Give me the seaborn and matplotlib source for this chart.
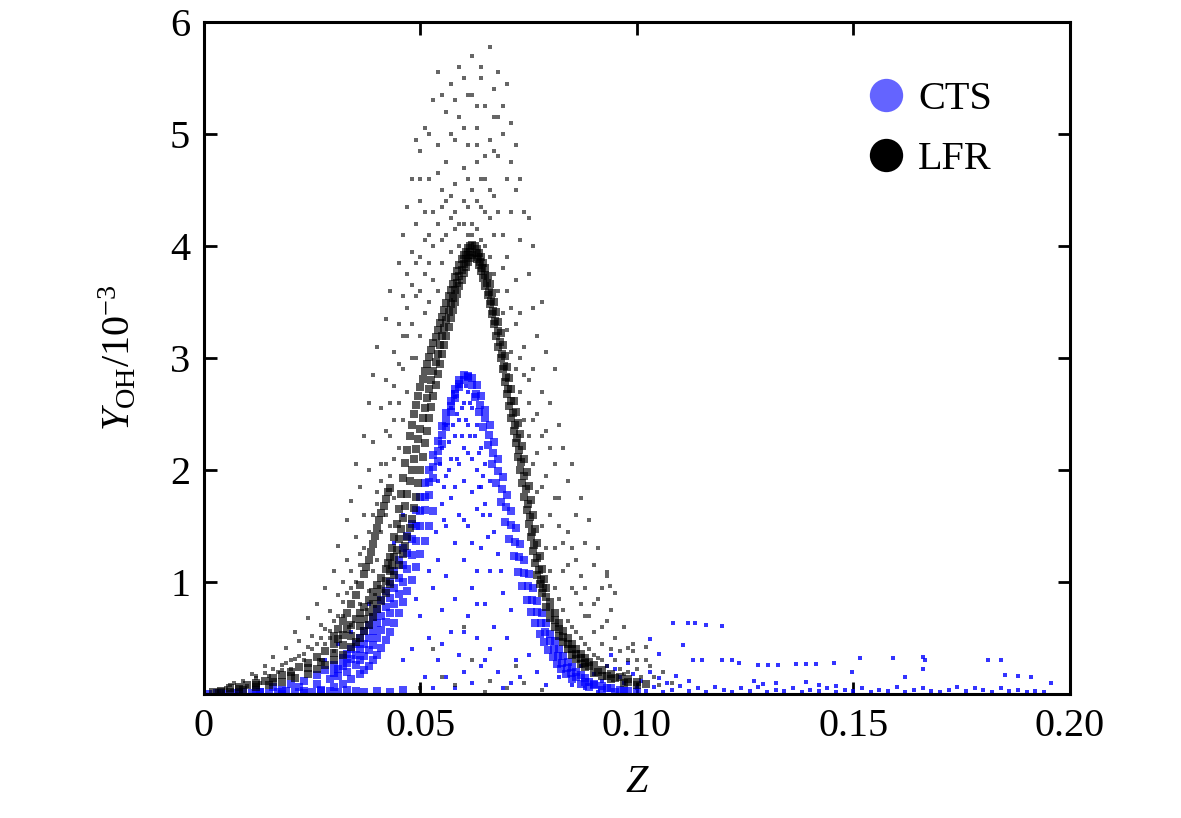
import pandas as pd
import matplotlib
matplotlib.use('Agg')
import matplotlib.pyplot as plt
from matplotlib.lines import Line2D
import seaborn as sns

# ---- data: (Z, Y_OH / 1e-3) ----
# LFR dense band, left branch (outer edge, middle, inner edge, side streak)
lfr_band_a = [(0.002,0.02),(0.004,0.03),(0.006,0.05),(0.008,0.06),(0.010,0.08),(0.012,0.1),(0.014,0.12),
              (0.016,0.14),(0.018,0.17),(0.020,0.2),(0.022,0.24),(0.024,0.28),(0.026,0.33),(0.028,0.38),
              (0.030,0.45),(0.031,0.49),(0.032,0.53),(0.033,0.58),(0.034,0.62),(0.035,0.67),(0.036,0.72),
              (0.037,0.78),(0.038,0.84),(0.039,0.91),(0.040,0.97),(0.041,1.04),(0.042,1.12),(0.0425,1.17),
              (0.043,1.22),(0.0435,1.3),(0.044,1.4),(0.0445,1.52),(0.045,1.65),(0.0455,1.79),(0.046,1.93),
              (0.0465,2.06),(0.047,2.18),(0.0475,2.3),(0.048,2.4),(0.0485,2.5),(0.049,2.58),(0.0495,2.66),
              (0.050,2.74),(0.0505,2.81),(0.051,2.88),(0.0515,2.95),(0.052,3.01),(0.0525,3.07),(0.053,3.13),
              (0.0535,3.19),(0.054,3.25),(0.0545,3.31),(0.055,3.37),(0.0555,3.43),(0.056,3.49),(0.0565,3.55),
              (0.057,3.61),(0.0575,3.66),(0.058,3.72),(0.0585,3.78),(0.059,3.83),(0.0595,3.88),(0.060,3.92),
              (0.0605,3.95),(0.061,3.98),(0.0615,4.0),(0.062,4.01)]
lfr_band_ab = [(0.004,0.02),(0.008,0.045),(0.012,0.08),(0.016,0.11),(0.020,0.16),(0.024,0.23),(0.027,0.29),
               (0.030,0.37),(0.032,0.44),(0.034,0.52),(0.036,0.61),(0.037,0.67),(0.038,0.73),(0.039,0.8),
               (0.040,0.87),(0.041,0.94),(0.042,1.01),(0.043,1.1),(0.0435,1.15),(0.044,1.22),(0.0445,1.29),
               (0.045,1.38),(0.0455,1.47),(0.046,1.57),(0.0465,1.68),(0.047,1.79),(0.0475,1.9),(0.048,2.0),
               (0.0485,2.1),(0.049,2.19),(0.0495,2.28),(0.050,2.37),(0.0505,2.46),(0.051,2.55),(0.0515,2.64),
               (0.052,2.72),(0.0525,2.8),(0.053,2.88),(0.0535,2.96),(0.054,3.04),(0.0545,3.12),(0.055,3.2),
               (0.0555,3.27),(0.056,3.34),(0.0565,3.41),(0.057,3.48),(0.0575,3.54),(0.058,3.61),(0.0585,3.67),
               (0.059,3.73),(0.0595,3.79),(0.060,3.84),(0.0605,3.88),(0.061,3.92),(0.0615,3.95)]
lfr_band_b = [(0.006,0.02),(0.009,0.04),(0.012,0.06),(0.015,0.08),(0.018,0.11),(0.021,0.14),(0.024,0.18),
              (0.026,0.22),(0.028,0.26),(0.030,0.3),(0.032,0.35),(0.034,0.42),(0.035,0.46),(0.036,0.5),
              (0.037,0.56),(0.038,0.62),(0.039,0.69),(0.040,0.76),(0.041,0.83),(0.042,0.9),(0.043,0.98),
              (0.044,1.06),(0.045,1.15),(0.046,1.25),(0.0465,1.32),(0.047,1.4),(0.0475,1.48),(0.048,1.56),
              (0.0485,1.66),(0.049,1.76),(0.0495,1.88),(0.050,2.0),(0.0505,2.12),(0.051,2.24),(0.0515,2.35),
              (0.052,2.46),(0.0525,2.56),(0.053,2.66),(0.0535,2.76),(0.054,2.86),(0.0545,2.95),(0.055,3.04),
              (0.0555,3.12),(0.056,3.2),(0.0565,3.28),(0.057,3.36),(0.0575,3.43),(0.058,3.5),(0.0585,3.57),
              (0.059,3.64),(0.0595,3.7),(0.060,3.76),(0.0605,3.81),(0.061,3.86),(0.0615,3.89),(0.062,3.92)]
lfr_band_c = [(0.030,0.52),(0.031,0.58),(0.032,0.65),(0.033,0.72),(0.034,0.8),(0.035,0.88),(0.036,0.97),
              (0.037,1.07),(0.0375,1.13),(0.038,1.2),(0.0385,1.27),(0.039,1.34),(0.0395,1.41),(0.040,1.48),
              (0.0405,1.55),(0.041,1.62),(0.0415,1.68),(0.042,1.74),(0.0425,1.8),(0.043,1.84)]
# LFR dense band, right branch (outer, middle, inner)
lfr_band_d = [(0.0625,4.0),(0.063,3.97),(0.0635,3.94),(0.064,3.9),(0.0645,3.85),(0.065,3.8),(0.0655,3.73),
              (0.066,3.66),(0.0665,3.58),(0.067,3.5),(0.0675,3.41),(0.068,3.32),(0.0685,3.22),(0.069,3.12),
              (0.0695,3.02),(0.070,2.92),(0.0705,2.82),(0.071,2.72),(0.0715,2.62),(0.072,2.52),(0.0725,2.42),
              (0.073,2.32),(0.0735,2.21),(0.074,2.1),(0.0745,1.98),(0.075,1.86),(0.0755,1.73),(0.076,1.6),
              (0.0765,1.47),(0.077,1.35),(0.0775,1.23),(0.078,1.12),(0.0785,1.03),(0.079,0.95),(0.080,0.82),
              (0.081,0.72),(0.082,0.63),(0.083,0.56),(0.084,0.5),(0.085,0.45),(0.086,0.4),(0.087,0.36),
              (0.088,0.32),(0.089,0.29),(0.090,0.26),(0.092,0.21),(0.094,0.18),(0.096,0.15),(0.098,0.13),
              (0.100,0.11),(0.102,0.09)]
lfr_band_de = [(0.0628,3.94),(0.0633,3.9),(0.0638,3.86),(0.0643,3.8),(0.0648,3.74),(0.0653,3.67),(0.0658,3.59),
               (0.0663,3.51),(0.0668,3.42),(0.0673,3.33),(0.0678,3.24),(0.0683,3.14),(0.0688,3.04),
               (0.0693,2.93),(0.0698,2.83),(0.0703,2.72),(0.0708,2.62),(0.0713,2.51),(0.0718,2.4),
               (0.0723,2.29),(0.0728,2.18),(0.0733,2.07),(0.0738,1.95),(0.0743,1.83),(0.0748,1.7),
               (0.0753,1.58),(0.0758,1.45),(0.0763,1.33),(0.0768,1.21),(0.0773,1.11),(0.0778,1.02),
               (0.0783,0.95),(0.079,0.87),(0.080,0.75),(0.081,0.66),(0.082,0.58),(0.083,0.51),(0.084,0.45),
               (0.085,0.4),(0.086,0.36),(0.087,0.32),(0.088,0.28),(0.089,0.25),(0.091,0.2),(0.093,0.16),
               (0.095,0.14),(0.098,0.11)]
lfr_band_e = [(0.063,3.88),(0.0635,3.83),(0.064,3.78),(0.0645,3.71),(0.065,3.64),(0.0655,3.56),(0.066,3.48),
              (0.0665,3.39),(0.067,3.3),(0.0675,3.2),(0.068,3.1),(0.0685,3.0),(0.069,2.9),(0.0695,2.79),
              (0.070,2.68),(0.0705,2.57),(0.071,2.46),(0.0715,2.35),(0.072,2.24),(0.0725,2.12),(0.073,2.0),
              (0.0735,1.88),(0.074,1.76),(0.0745,1.64),(0.075,1.52),(0.0755,1.4),(0.076,1.28),(0.0765,1.17),
              (0.077,1.06),(0.0775,0.98),(0.078,0.9),(0.079,0.78),(0.080,0.68),(0.081,0.6),(0.082,0.52),
              (0.083,0.46),(0.084,0.4),(0.085,0.35),(0.086,0.31),(0.087,0.27),(0.088,0.24),(0.090,0.19),
              (0.092,0.16),(0.094,0.13),(0.097,0.1),(0.100,0.08)]
# LFR scattered cloud around the band
lfr_cloud = [(0.006,0.08),(0.009,0.12),(0.011,0.18),(0.013,0.1),(0.014,0.25),(0.016,0.33),(0.017,0.2),
             (0.019,0.41),(0.020,0.3),(0.021,0.55),(0.022,0.47),(0.023,0.36),(0.024,0.68),(0.025,0.52),
             (0.026,0.8),(0.027,0.62),(0.028,0.95),(0.028,0.45),(0.029,0.74),(0.030,1.1),(0.031,0.88),
             (0.031,1.32),(0.032,1.0),(0.033,1.55),(0.033,1.2),(0.034,0.95),(0.034,1.72),(0.035,1.4),
             (0.035,2.05),(0.036,1.85),(0.036,1.25),(0.037,2.3),(0.037,1.6),(0.038,2.6),(0.038,2.0),
             (0.039,2.85),(0.039,2.25),(0.040,1.8),(0.040,3.1),(0.041,2.55),(0.041,2.05),(0.042,3.35),
             (0.042,2.8),(0.043,2.3),(0.043,3.6),(0.044,3.05),(0.044,2.1),(0.045,3.85),(0.045,3.3),
             (0.045,2.6),(0.046,4.1),(0.046,3.55),(0.046,2.9),(0.047,4.35),(0.047,3.75),(0.047,3.2),
             (0.048,4.6),(0.048,3.95),(0.048,3.0),(0.049,4.2),(0.049,3.55),(0.050,4.85),(0.050,4.4),
             (0.050,3.9),(0.051,3.4),(0.051,5.05),(0.052,4.6),(0.052,4.1),(0.053,5.3),(0.053,4.3),
             (0.053,3.7),(0.054,4.9),(0.054,5.55),(0.055,4.5),(0.055,4.05),(0.056,5.2),(0.056,4.75),
             (0.057,5.45),(0.057,4.25),(0.058,4.95),(0.058,4.55),(0.059,5.6),(0.059,5.15),(0.059,4.2),
             (0.060,4.7),(0.060,4.4),(0.061,5.35),(0.061,4.9),(0.062,5.7),(0.062,4.5),(0.062,4.2),
             (0.063,5.05),(0.063,4.75),(0.064,5.5),(0.064,4.35),(0.065,5.25),(0.065,4.6),(0.066,5.78),
             (0.066,4.95),(0.066,4.25),(0.067,5.15),(0.067,4.45),(0.068,5.55),(0.068,4.8),(0.069,4.1),
             (0.069,5.0),(0.070,5.45),(0.070,4.6),(0.070,3.9),(0.071,4.75),(0.071,4.3),(0.072,3.7),
             (0.072,4.5),(0.073,4.05),(0.073,3.4),(0.074,4.3),(0.074,3.1),(0.075,3.75),(0.075,2.8),
             (0.076,3.45),(0.076,4.0),(0.076,2.45),(0.077,3.2),(0.077,2.15),(0.078,3.5),(0.078,2.7),
             (0.078,1.85),(0.079,3.05),(0.079,2.35),(0.080,2.6),(0.080,1.6),(0.081,2.9),(0.081,2.05),
             (0.081,1.3),(0.082,2.4),(0.082,1.75),(0.083,2.2),(0.083,1.1),(0.084,1.9),(0.084,1.45),
             (0.085,2.05),(0.085,0.95),(0.086,1.6),(0.086,1.2),(0.087,1.75),(0.087,0.8),(0.088,1.35),
             (0.088,0.95),(0.089,1.55),(0.089,0.7),(0.090,1.15),(0.090,0.55),(0.091,1.3),(0.091,0.85),
             (0.092,0.95),(0.092,0.45),(0.093,1.05),(0.093,0.65),(0.094,0.75),(0.095,0.5),(0.095,0.9),
             (0.096,0.38),(0.097,0.6),(0.098,0.3),(0.099,0.45),(0.100,0.22),(0.102,0.3),(0.104,0.15),
             (0.106,0.2),(0.108,0.1),(0.003,0.03),(0.005,0.05),(0.007,0.1),(0.010,0.07),(0.012,0.14),
             (0.015,0.16),(0.018,0.26),(0.020,0.22),(0.022,0.34),(0.025,0.4),(0.027,0.3),(0.029,0.56),
             (0.030,0.38),(0.032,0.7),(0.034,0.62),(0.036,0.8),(0.038,0.92),(0.040,1.2),(0.041,1.45),
             (0.042,1.6),(0.043,1.5),(0.044,1.75),(0.050,0.05),(0.055,0.15),(0.058,0.08),(0.062,0.3),
             (0.066,0.12),(0.070,0.05),(0.072,0.25),(0.074,0.1),(0.078,0.04),(0.053,0.4),(0.060,0.6),
             (0.065,0.02),(0.098,0.2),(0.100,0.3),(0.101,0.15),(0.103,0.25),(0.105,0.08),(0.099,0.38),
             (0.102,0.42),(0.093,1.09),(0.0937,0.96),(0.098,0.41)]
# more LFR cloud hugging the band and filling the top
lfr_cloud_near = [(0.012,0.16),(0.014,0.19),(0.016,0.22),(0.018,0.21),(0.019,0.28),(0.021,0.31),(0.023,0.3),
                  (0.024,0.42),(0.026,0.45),(0.027,0.5),(0.028,0.58),(0.029,0.5),(0.030,0.65),(0.031,0.7),
                  (0.032,0.82),(0.033,0.9),(0.034,1.1),(0.035,1.0),(0.036,1.15),(0.037,1.3),(0.038,1.45),
                  (0.039,1.6),(0.039,1.1),(0.040,1.7),(0.041,1.9),(0.042,2.05),(0.042,2.35),(0.043,2.6),
                  (0.043,1.95),(0.044,2.45),(0.044,2.75),(0.045,2.2),(0.045,2.95),(0.046,2.45),(0.046,3.2),
                  (0.047,2.7),(0.047,3.45),(0.048,3.3),(0.048,3.65),(0.049,3.0),(0.049,3.85),(0.050,3.2),
                  (0.050,3.6),(0.051,3.75),(0.051,4.05),(0.052,3.5),(0.052,3.85),(0.053,4.0),(0.054,3.6),
                  (0.054,4.2),(0.055,3.85),(0.055,4.35),(0.056,4.1),(0.057,3.95),(0.057,4.45),(0.058,4.15),
                  (0.058,4.3),(0.059,4.0),(0.060,4.2),(0.061,4.1),(0.061,4.35),(0.062,4.1),(0.063,4.15),
                  (0.063,4.4),(0.064,4.05),(0.064,4.6),(0.065,4.0),(0.065,4.3),(0.066,3.9),(0.066,4.5),
                  (0.067,3.75),(0.067,4.1),(0.068,3.6),(0.068,4.3),(0.069,3.4),(0.069,3.8),(0.070,3.25),
                  (0.070,3.6),(0.071,3.05),(0.071,3.45),(0.072,2.9),(0.072,3.3),(0.073,2.7),(0.073,3.0),
                  (0.074,2.45),(0.074,2.85),(0.075,2.3),(0.075,2.6),(0.076,2.05),(0.076,2.9),(0.077,1.8),
                  (0.077,2.5),(0.078,1.5),(0.078,2.3),(0.079,1.3),(0.079,1.95),(0.080,1.1),(0.080,2.2),
                  (0.081,0.95),(0.081,1.75),(0.082,0.85),(0.082,1.5),(0.083,0.75),(0.083,1.35),(0.084,0.65),
                  (0.084,1.15),(0.085,0.6),(0.085,1.3),(0.086,0.55),(0.086,0.9),(0.087,0.5),(0.087,1.05),
                  (0.088,0.45),(0.088,0.7),(0.089,0.4),(0.090,0.35),(0.090,0.8),(0.091,0.32),(0.092,0.3),
                  (0.092,0.6),(0.093,0.25),(0.094,0.4),(0.095,0.3),(0.096,0.22),(0.097,0.18),(0.052,5.0),
                  (0.055,5.35),(0.058,5.3),(0.060,5.5),(0.063,5.25),(0.064,5.6),(0.067,5.4),(0.069,5.25),
                  (0.057,5.0),(0.061,4.6),(0.063,4.9),(0.067,4.85),(0.071,5.1),(0.073,4.6),(0.072,4.9),
                  (0.075,4.25),(0.050,4.6),(0.049,4.95),(0.051,4.3),(0.054,4.65),(0.056,4.4),(0.060,5.05),
                  (0.062,5.35),(0.065,4.8),(0.068,5.15)]

# CTS dense band, left branch (left edge, two middles, right edge, bottom strip)
cts_band_p = [(0.004,0.01),(0.008,0.02),(0.012,0.04),(0.016,0.06),(0.020,0.09),(0.023,0.12),(0.026,0.17),
              (0.028,0.21),(0.030,0.26),(0.032,0.32),(0.033,0.36),(0.034,0.4),(0.035,0.45),(0.036,0.5),
              (0.037,0.56),(0.038,0.62),(0.039,0.69),(0.040,0.76),(0.041,0.84),(0.042,0.92),(0.043,1.0),
              (0.044,1.1),(0.045,1.2),(0.046,1.3),(0.047,1.41),(0.048,1.52),(0.049,1.64),(0.050,1.76),
              (0.051,1.88),(0.052,2.0),(0.053,2.13),(0.054,2.26),(0.055,2.39),(0.056,2.51),(0.057,2.62),
              (0.058,2.72),(0.059,2.8),(0.060,2.85)]
cts_band_pq = [(0.030,0.19),(0.031,0.22),(0.032,0.25),(0.033,0.28),(0.034,0.31),(0.035,0.35),(0.036,0.4),
               (0.037,0.45),(0.038,0.5),(0.039,0.56),(0.040,0.63),(0.041,0.7),(0.042,0.78),(0.043,0.86),
               (0.044,0.95),(0.045,1.04),(0.046,1.15),(0.047,1.26),(0.048,1.38),(0.049,1.5),(0.050,1.63),
               (0.051,1.76),(0.052,1.89),(0.053,2.03),(0.054,2.17),(0.055,2.31),(0.056,2.44),(0.057,2.57),
               (0.058,2.68),(0.059,2.77)]
cts_band_q = [(0.008,0.01),(0.013,0.02),(0.018,0.04),(0.022,0.06),(0.026,0.09),(0.029,0.13),(0.031,0.16),
              (0.033,0.2),(0.035,0.26),(0.036,0.3),(0.037,0.34),(0.038,0.39),(0.039,0.44),(0.040,0.5),
              (0.041,0.57),(0.042,0.64),(0.043,0.72),(0.044,0.8),(0.045,0.89),(0.046,1.0),(0.047,1.12),
              (0.048,1.24),(0.049,1.37),(0.050,1.5),(0.051,1.64),(0.052,1.78),(0.053,1.93),(0.054,2.08),
              (0.055,2.23),(0.056,2.38),(0.057,2.52),(0.058,2.64),(0.059,2.74),(0.060,2.8),(0.061,2.83)]
cts_band_r = [(0.018,0.0),(0.023,0.01),(0.027,0.03),(0.030,0.06),(0.032,0.09),(0.034,0.13),(0.036,0.18),
              (0.037,0.21),(0.038,0.25),(0.039,0.3),(0.040,0.35),(0.041,0.41),(0.042,0.48),(0.043,0.55),
              (0.044,0.63),(0.045,0.72),(0.046,0.82),(0.047,0.92),(0.048,1.02),(0.049,1.13),(0.050,1.25),
              (0.051,1.37),(0.052,1.5),(0.053,1.63)]
cts_band_s = [(0.001,0.0),(0.003,0.01),(0.005,0.0),(0.007,0.01),(0.009,0.02),(0.011,0.01),(0.013,0.02),
              (0.015,0.01),(0.017,0.02),(0.019,0.03),(0.021,0.02),(0.023,0.03),(0.025,0.02),(0.027,0.04),
              (0.029,0.03),(0.031,0.02),(0.033,0.04),(0.035,0.03),(0.037,0.02),(0.040,0.03),(0.043,0.02),
              (0.046,0.04)]
# CTS dense band, right branch (outer, middle, inner)
cts_band_t = [(0.061,2.84),(0.062,2.82),(0.063,2.76),(0.064,2.66),(0.065,2.54),(0.066,2.4),(0.067,2.25),
              (0.068,2.1),(0.069,1.94),(0.070,1.78),(0.071,1.63),(0.072,1.48),(0.073,1.34),(0.074,1.2),
              (0.075,1.07),(0.076,0.95),(0.077,0.83),(0.078,0.72),(0.079,0.63),(0.080,0.54),(0.081,0.47),
              (0.082,0.4),(0.083,0.34),(0.084,0.29),(0.085,0.24),(0.086,0.2),(0.087,0.17),(0.088,0.14),
              (0.089,0.11),(0.090,0.09),(0.092,0.07),(0.094,0.05),(0.096,0.04),(0.098,0.03),(0.100,0.02)]
cts_band_tu = [(0.0618,2.76),(0.0628,2.68),(0.0638,2.58),(0.0648,2.46),(0.0658,2.31),(0.0668,2.15),
               (0.0678,1.99),(0.0688,1.83),(0.0698,1.67),(0.0708,1.51),(0.0718,1.36),(0.0728,1.22),
               (0.0738,1.08),(0.0748,0.96),(0.0758,0.84),(0.0768,0.73),(0.0778,0.63),(0.0788,0.55),
               (0.0798,0.47),(0.0808,0.4),(0.0818,0.34),(0.0828,0.28),(0.0838,0.23),(0.0848,0.19),
               (0.086,0.15),(0.088,0.11),(0.090,0.08),(0.093,0.05),(0.097,0.03)]
cts_band_u = [(0.0625,2.65),(0.0635,2.52),(0.0645,2.38),(0.0655,2.22),(0.0665,2.05),(0.0675,1.88),
              (0.0685,1.71),(0.0695,1.54),(0.0705,1.38),(0.0715,1.23),(0.0725,1.09),(0.0735,0.96),
              (0.0745,0.84),(0.0755,0.73),(0.0765,0.63),(0.0775,0.54),(0.0785,0.46),(0.0795,0.39),
              (0.0805,0.33),(0.0815,0.27),(0.0825,0.22),(0.0835,0.18),(0.085,0.13),(0.087,0.09),
              (0.089,0.06),(0.092,0.04),(0.095,0.02)]
# CTS points under the peak
cts_inner = [(0.056,2.4),(0.057,2.55),(0.058,2.65),(0.058,2.3),(0.059,2.75),(0.059,2.45),(0.060,2.6),
             (0.060,2.2),(0.061,2.7),(0.061,2.4),(0.062,2.55),(0.062,2.1),(0.063,2.4),(0.063,2.0),
             (0.064,2.2),(0.064,1.85),(0.065,2.05),(0.065,1.7),(0.066,1.9),(0.057,2.1),(0.056,1.95),
             (0.055,2.2),(0.058,1.85),(0.059,2.05),(0.060,1.9),(0.061,2.15),(0.062,1.8),(0.063,1.65),
             (0.054,1.9),(0.055,1.7),(0.056,1.5),(0.057,1.75),(0.059,1.6),(0.061,1.5),(0.062,1.35),
             (0.0595,2.3),(0.0605,2.45),(0.0575,2.4),(0.0615,2.6),(0.0585,2.1),(0.0625,2.3),(0.0635,2.15),
             (0.0565,2.25),(0.0545,2.05),(0.0555,1.85),(0.0645,1.95),(0.054,1.2),(0.056,1.05),(0.058,0.85),
             (0.060,1.2),(0.062,0.95),(0.064,1.3),(0.066,1.1),(0.057,0.55),(0.059,0.35),(0.061,0.7),
             (0.063,0.5),(0.065,0.8),(0.067,0.6),(0.069,0.9),(0.055,0.75),(0.053,0.95),(0.052,0.5),
             (0.050,0.7),(0.054,0.3),(0.056,0.15),(0.058,0.05),(0.060,0.2),(0.062,0.1),(0.064,0.25),
             (0.066,0.4),(0.068,0.2),(0.070,0.5),(0.072,0.3),(0.048,0.4),(0.046,0.3),(0.051,0.15),
             (0.053,0.05),(0.071,0.75),(0.073,0.15),(0.075,0.35),(0.068,1.25),(0.067,1.45),(0.063,1.1),
             (0.060,0.55),(0.058,1.35),(0.066,1.6),(0.065,0.3),(0.069,0.05),(0.071,0.1),(0.077,0.2),
             (0.079,0.08),(0.055,0.45),(0.063,0.8),(0.060,1.55),(0.052,1.1),(0.049,0.85),(0.028,0.3),
             (0.031,0.45),(0.034,0.55),(0.038,0.8),(0.044,1.35),(0.046,1.6),(0.082,0.15),(0.085,0.08),
             (0.087,0.25),(0.090,0.18),(0.092,0.12),(0.093,0.25),(0.096,0.15),(0.088,0.05),(0.091,0.02),
             (0.0575,2.7),(0.0605,2.75),(0.0595,2.55),(0.0585,2.5),(0.0615,2.3),(0.0565,2.0),(0.0635,1.85),
             (0.0555,1.55),(0.0645,1.6),(0.0535,1.45),(0.0655,1.4),(0.0685,1.1)]
# CTS long tail on the lean side
cts_tail = [(0.1083,0.63),(0.1118,0.63),(0.1134,0.63),(0.116,0.62),(0.1196,0.61),(0.103,0.49),(0.105,0.36),
            (0.1107,0.44),(0.113,0.3),(0.115,0.3),(0.1196,0.3),(0.122,0.3),(0.1236,0.28),(0.128,0.26),
            (0.1303,0.26),(0.1325,0.26),(0.1367,0.27),(0.139,0.27),(0.1413,0.27),(0.1455,0.28),(0.1515,0.32),
            (0.1592,0.32),(0.166,0.33),(0.1665,0.3),(0.181,0.3),(0.184,0.3),(0.1497,0.2),(0.166,0.22),
            (0.162,0.15),(0.185,0.17),(0.188,0.16),(0.191,0.15),(0.1955,0.1),(0.127,0.12),(0.129,0.09),
            (0.132,0.1),(0.139,0.11),(0.142,0.08),(0.146,0.07),(0.100,0.05),(0.102,0.03),(0.104,0.06),
            (0.106,0.02),(0.108,0.04),(0.110,0.07),(0.112,0.03),(0.114,0.05),(0.116,0.02),(0.118,0.06),
            (0.120,0.04),(0.122,0.02),(0.124,0.05),(0.126,0.03),(0.128,0.06),(0.130,0.02),(0.132,0.04),
            (0.134,0.03),(0.136,0.05),(0.138,0.02),(0.140,0.04),(0.142,0.03),(0.144,0.05),(0.146,0.02),
            (0.148,0.04),(0.150,0.03),(0.152,0.05),(0.154,0.02),(0.156,0.04),(0.158,0.03),(0.160,0.06),
            (0.162,0.02),(0.164,0.04),(0.166,0.05),(0.168,0.03),(0.170,0.02),(0.172,0.04),(0.174,0.06),
            (0.176,0.03),(0.178,0.05),(0.180,0.04),(0.182,0.02),(0.184,0.05),(0.186,0.03),(0.188,0.04),
            (0.190,0.02),(0.192,0.03),(0.194,0.02),(0.097,0.1),(0.099,0.18),(0.101,0.12),(0.103,0.2),
            (0.105,0.14),(0.107,0.1),(0.109,0.16),(0.112,0.12),(0.095,0.22),(0.098,0.28),(0.094,0.35)]

x_ticks = [0, 0.05, 0.10, 0.15, 0.20]
x_tick_labels = ['0', '0.05', '0.10', '0.15', '0.20']
y_ticks = [1, 2, 3, 4, 5, 6]


def frame(groups):
    return pd.DataFrame([p for g in groups for p in g], columns=['Z', 'Y'])


cts_bands = frame([cts_band_s, cts_band_p, cts_band_pq, cts_band_q, cts_band_r,
                   cts_band_t, cts_band_tu, cts_band_u])
lfr_bands = frame([lfr_band_a, lfr_band_ab, lfr_band_b, lfr_band_c,
                   lfr_band_d, lfr_band_de, lfr_band_e])
cts_points = frame([cts_inner, cts_tail])
lfr_points = frame([lfr_cloud, lfr_cloud_near])

sns.set_theme(style='ticks')
plt.rcParams['font.family'] = ['Liberation Serif', 'DejaVu Serif']
plt.rcParams['mathtext.fontset'] = 'custom'
plt.rcParams['mathtext.rm'] = 'Liberation Serif'
plt.rcParams['mathtext.it'] = 'Liberation Serif:italic'
for key in ['text.color', 'axes.labelcolor', 'xtick.color', 'ytick.color', 'axes.edgecolor']:
    plt.rcParams[key] = 'black'

fig = plt.figure(figsize=(11.81, 8.18), dpi=100)
ax = fig.add_axes([0.1727, 0.1516, 0.7333, 0.8215])

# dense bands: overlapping translucent squares; sparse points: small squares
sns.scatterplot(data=cts_bands, x='Z', y='Y', color='#0000ff', s=36, alpha=0.7,
                marker='s', linewidth=0, legend=False, ax=ax)
sns.scatterplot(data=cts_points, x='Z', y='Y', color='#0000ff', s=11, alpha=0.8,
                marker='s', linewidth=0, legend=False, ax=ax)
sns.scatterplot(data=lfr_points, x='Z', y='Y', color='black', s=11, alpha=0.6,
                marker='s', linewidth=0, legend=False, ax=ax)
sns.scatterplot(data=lfr_bands, x='Z', y='Y', color='black', s=36, alpha=0.65,
                marker='s', linewidth=0, legend=False, ax=ax)

ax.set_xlim(0, 0.20)
ax.set_ylim(0, 6)
ax.set_xticks(x_ticks)
ax.set_xticklabels(x_tick_labels)
ax.set_yticks(y_ticks)
ax.tick_params(direction='in', top=True, right=True, length=9, width=2,
               labelsize=29, pad=10)
for sp in ax.spines.values():
    sp.set_linewidth(2.2)

ax.set_xlabel(r'$Z$', fontsize=29, labelpad=14)
ax.set_ylabel(r'$Y_{\mathrm{OH}}/10^{-3}$', fontsize=29, labelpad=22)

handles = [Line2D([], [], linestyle='none', marker='o', markersize=24,
                  markerfacecolor='#6464ff', markeredgewidth=0, label='CTS'),
           Line2D([], [], linestyle='none', marker='o', markersize=24,
                  markerfacecolor='black', markeredgewidth=0, label='LFR')]
ax.legend(handles=handles, loc='upper left', bbox_to_anchor=(0.769, 0.912),
          frameon=False, fontsize=29, handlelength=0.8, handletextpad=0.4,
          labelspacing=0.55, borderpad=0, borderaxespad=0)

fig.savefig('out.png', dpi=100)
